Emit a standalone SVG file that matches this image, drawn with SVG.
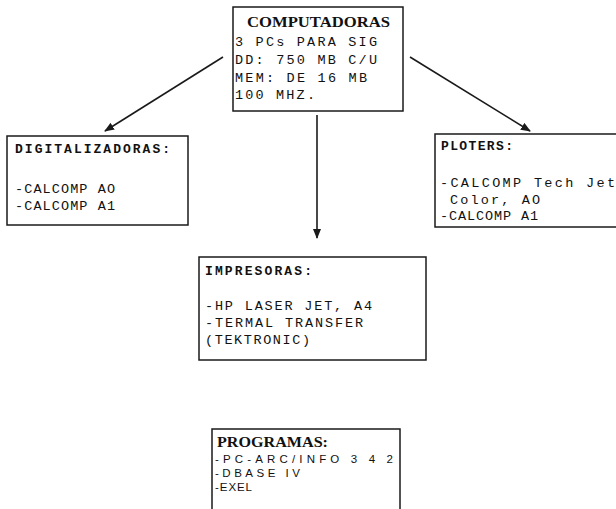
<svg xmlns="http://www.w3.org/2000/svg" width="616" height="509" viewBox="0 0 616 509">
<defs>
<style>
.box{fill:#fff;stroke:#1a1a1a;stroke-width:1.5}
.conn{stroke:#1a1a1a;stroke-width:1.6;fill:none}
.t{font-family:"Liberation Mono","DejaVu Sans Mono",monospace;font-size:13.5px;fill:#111}
.h{font-family:"Liberation Mono","DejaVu Sans Mono",monospace;font-size:13px;font-weight:bold;fill:#111}
.s{font-family:"Liberation Serif","Times New Roman",serif;font-size:15.5px;font-weight:bold;fill:#111}
.p{font-family:"Liberation Sans",Arial,sans-serif;font-size:11.5px;fill:#111}
</style>
<marker id="ah" markerWidth="10" markerHeight="8" refX="9" refY="4" orient="auto" markerUnits="userSpaceOnUse">
<path d="M0,0 L10,4 L0,8 Z" fill="#1a1a1a"/>
</marker>
</defs>
<rect width="616" height="509" fill="#fff"/>
<g id="connectors">
<line class="conn" x1="223" y1="57" x2="105" y2="131" marker-end="url(#ah)"/>
<line class="conn" x1="410" y1="57" x2="530" y2="131" marker-end="url(#ah)"/>
<line class="conn" x1="317" y1="115" x2="317" y2="238" marker-end="url(#ah)"/>
</g>
<g id="computadoras">
<rect class="box" x="233" y="7" width="170" height="104"/>
<text class="s" x="247" y="27" textLength="143" lengthAdjust="spacingAndGlyphs">COMPUTADORAS</text>
<text class="t" x="235" y="46" textLength="142" lengthAdjust="spacing">3 PCs PARA SIG</text>
<text class="t" x="235" y="64" textLength="142" lengthAdjust="spacing">DD: 750 MB C/U</text>
<text class="t" x="235" y="82" textLength="132" lengthAdjust="spacing">MEM: DE 16 MB</text>
<text class="t" x="235" y="99" textLength="80" lengthAdjust="spacing">100 MHZ.</text>
</g>
<g id="digitalizadoras">
<rect class="box" x="7" y="136" width="181" height="89"/>
<text class="h" x="15" y="153" textLength="155" lengthAdjust="spacing">DIGITALIZADORAS:</text>
<text class="t" x="15" y="193" textLength="100" lengthAdjust="spacing">-CALCOMP AO</text>
<text class="t" x="15" y="210" textLength="100" lengthAdjust="spacing">-CALCOMP A1</text>
</g>
<g id="ploters">
<rect class="box" x="435" y="134" width="200" height="93"/>
<text class="h" x="441" y="150" textLength="72" lengthAdjust="spacing">PLOTERS:</text>
<text class="t" x="440" y="187" textLength="175" lengthAdjust="spacing">-CALCOMP Tech Jet</text>
<text class="t" x="450" y="204" textLength="90" lengthAdjust="spacing">Color, AO</text>
<text class="t" x="440" y="220" textLength="98" lengthAdjust="spacing">-CALCOMP A1</text>
</g>
<g id="impresoras">
<rect class="box" x="199" y="257" width="227" height="103"/>
<text class="h" x="205" y="275" textLength="107" lengthAdjust="spacing">IMPRESORAS:</text>
<text class="t" x="205" y="310" textLength="167" lengthAdjust="spacing">-HP LASER JET, A4</text>
<text class="t" x="205" y="327" textLength="158" lengthAdjust="spacing">-TERMAL TRANSFER</text>
<text class="t" x="205" y="344" textLength="105" lengthAdjust="spacing">(TEKTRONIC)</text>
</g>
<g id="programas">
<rect class="box" x="212" y="429" width="188" height="100"/>
<text class="s" x="217" y="447" textLength="111" lengthAdjust="spacingAndGlyphs">PROGRAMAS:</text>
<text class="p" x="215" y="463" textLength="178" lengthAdjust="spacing">-PC-ARC/INFO 3 4 2</text>
<text class="p" x="215" y="477" textLength="85" lengthAdjust="spacing">-DBASE  IV</text>
<text class="p" x="215" y="491" textLength="37" lengthAdjust="spacing">-EXEL</text>
</g>
</svg>
